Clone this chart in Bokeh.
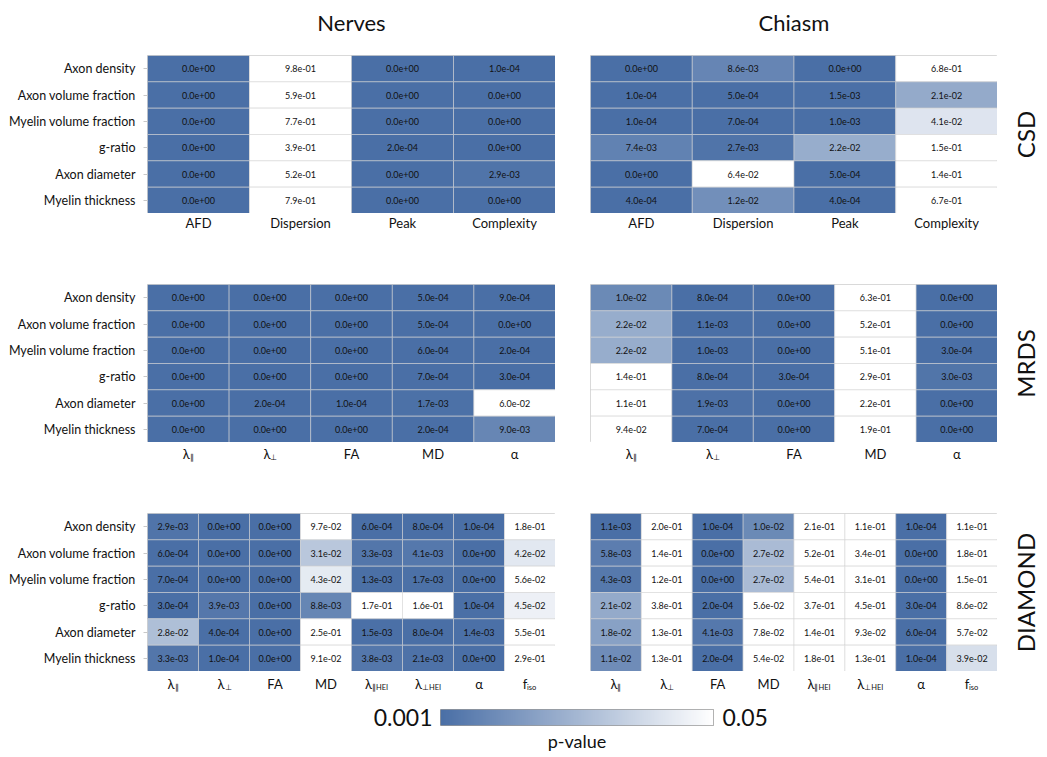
import numpy as np
from bokeh.plotting import figure
from bokeh.models import (ColumnDataSource, FactorRange, Range1d, LinearColorMapper,
                          LinearAxis, FixedTicker)
from bokeh.transform import transform
from bokeh.layouts import column, row
from bokeh.embed import file_html
from bokeh.resources import INLINE
from bokeh.core.properties import value

# ---------------- data ----------------
rows = ["Axon density", "Axon volume fraction", "Myelin volume fraction",
        "g-ratio", "Axon diameter", "Myelin thickness"]

csd_cols = ["AFD", "Dispersion", "Peak", "Complexity"]
csd_main = ["AFD", "Dispersion", "Peak", "Complexity"]
csd_sub = ["", "", "", ""]

mrds_cols = ["λ∥", "λ⊥", "FA", "MD", "α"]
mrds_main = ["λ", "λ", "FA", "MD", "α"]
mrds_sub = ["∥", "⊥", "", "", ""]

diamond_cols = ["λ∥", "λ⊥", "FA", "MD", "λ∥HEI", "λ⊥HEI", "α", "fiso"]
diamond_main = ["λ", "λ", "FA", "MD", "λ", "λ", "α", "f"]
diamond_sub = ["∥", "⊥", "", "", "∥HEI", "⊥HEI", "", "iso"]

csd_nerves = [
    [0.0, 9.8e-01, 0.0, 1.0e-04],
    [0.0, 5.9e-01, 0.0, 0.0],
    [0.0, 7.7e-01, 0.0, 0.0],
    [0.0, 3.9e-01, 2.0e-04, 0.0],
    [0.0, 5.2e-01, 0.0, 2.9e-03],
    [0.0, 7.9e-01, 0.0, 0.0],
]
csd_chiasm = [
    [0.0, 8.6e-03, 0.0, 6.8e-01],
    [1.0e-04, 5.0e-04, 1.5e-03, 2.1e-02],
    [1.0e-04, 7.0e-04, 1.0e-03, 4.1e-02],
    [7.4e-03, 2.7e-03, 2.2e-02, 1.5e-01],
    [0.0, 6.4e-02, 5.0e-04, 1.4e-01],
    [4.0e-04, 1.2e-02, 4.0e-04, 6.7e-01],
]
mrds_nerves = [
    [0.0, 0.0, 0.0, 5.0e-04, 9.0e-04],
    [0.0, 0.0, 0.0, 5.0e-04, 0.0],
    [0.0, 0.0, 0.0, 6.0e-04, 2.0e-04],
    [0.0, 0.0, 0.0, 7.0e-04, 3.0e-04],
    [0.0, 2.0e-04, 1.0e-04, 1.7e-03, 6.0e-02],
    [0.0, 0.0, 0.0, 2.0e-04, 9.0e-03],
]
mrds_chiasm = [
    [1.0e-02, 8.0e-04, 0.0, 6.3e-01, 0.0],
    [2.2e-02, 1.1e-03, 0.0, 5.2e-01, 0.0],
    [2.2e-02, 1.0e-03, 0.0, 5.1e-01, 3.0e-04],
    [1.4e-01, 8.0e-04, 3.0e-04, 2.9e-01, 3.0e-03],
    [1.1e-01, 1.9e-03, 0.0, 2.2e-01, 0.0],
    [9.4e-02, 7.0e-04, 0.0, 1.9e-01, 0.0],
]
diamond_nerves = [
    [2.9e-03, 0.0, 0.0, 9.7e-02, 6.0e-04, 8.0e-04, 1.0e-04, 1.8e-01],
    [6.0e-04, 0.0, 0.0, 3.1e-02, 3.3e-03, 4.1e-03, 0.0, 4.2e-02],
    [7.0e-04, 0.0, 0.0, 4.3e-02, 1.3e-03, 1.7e-03, 0.0, 5.6e-02],
    [3.0e-04, 3.9e-03, 0.0, 8.8e-03, 1.7e-01, 1.6e-01, 1.0e-04, 4.5e-02],
    [2.8e-02, 4.0e-04, 0.0, 2.5e-01, 1.5e-03, 8.0e-04, 1.4e-03, 5.5e-01],
    [3.3e-03, 1.0e-04, 0.0, 9.1e-02, 3.8e-03, 2.1e-03, 0.0, 2.9e-01],
]
diamond_chiasm = [
    [1.1e-03, 2.0e-01, 1.0e-04, 1.0e-02, 2.1e-01, 1.1e-01, 1.0e-04, 1.1e-01],
    [5.8e-03, 1.4e-01, 0.0, 2.7e-02, 5.2e-01, 3.4e-01, 0.0, 1.8e-01],
    [4.3e-03, 1.2e-01, 0.0, 2.7e-02, 5.4e-01, 3.1e-01, 0.0, 1.5e-01],
    [2.1e-02, 3.8e-01, 2.0e-04, 5.6e-02, 3.7e-01, 4.5e-01, 3.0e-04, 8.6e-02],
    [1.8e-02, 1.3e-01, 4.1e-03, 7.8e-02, 1.4e-01, 9.3e-02, 6.0e-04, 5.7e-02],
    [1.1e-02, 1.3e-01, 2.0e-04, 5.4e-02, 1.8e-01, 1.3e-01, 1.0e-04, 3.9e-02],
]

p_low, p_high = 0.001, 0.05

# ---------------- style ----------------
FONT = "Lato"
INK = "#111111"
DARK = (74, 111, 166)
palette = ["#%02x%02x%02x" % tuple(int(round(c + (255 - c) * t)) for c in DARK)
           for t in np.linspace(0, 1, 256)]
mapper = LinearColorMapper(palette=palette, low=p_low, high=p_high,
                           low_color=palette[0], high_color=palette[-1])

FRAME_H = 158
TITLE_H, TITLE_Y = 55, -22
L_LEFT, L_FRAME = 147, 408
R_LEFT, R_FRAME = 35, 407
SIDE_W, SIDE_X = 45, 28
SUB_W = {"∥": 4, "⊥": 6, "∥HEI": 17, "⊥HEI": 19, "iso": 10, "": 0}
MAIN_W = {"λ": 7, "f": 4}


def bare(**kw):
    p = figure(x_axis_location=None, y_axis_location=None, toolbar_location=None,
               output_backend="svg", title=None, min_border_right=0,
               min_border_bottom=0, min_border_top=0, outline_line_color=None, **kw)
    p.grid.visible = False
    return p


def blank_axis(ax):
    ax.axis_line_color = None
    ax.major_tick_line_color = None
    ax.minor_tick_line_color = None
    ax.axis_label_text_font = FONT
    ax.axis_label_text_font_style = "normal"
    ax.axis_label_text_color = INK


def heatmap(vals, cols, left):
    bl, fw = (L_LEFT, L_FRAME) if left else (R_LEFT, R_FRAME)
    p = figure(x_range=FactorRange(*cols), y_range=FactorRange(*reversed(rows)),
               width=bl + fw, height=FRAME_H,
               min_border_left=bl, min_border_right=0,
               min_border_top=0, min_border_bottom=0,
               x_axis_location=None, y_axis_location="left" if left else None,
               toolbar_location=None, output_backend="svg", title=None,
               outline_line_color="#d0d0d0")
    p.grid.visible = False
    xs, ys, ps, txt = [], [], [], []
    for i, r in enumerate(rows):
        for j, c in enumerate(cols):
            xs.append(c); ys.append(r); ps.append(vals[i][j])
            txt.append("{:.1e}".format(vals[i][j]))
    src = ColumnDataSource(dict(x=xs, y=ys, p=ps, t=txt))
    p.rect(x="x", y="y", width=1, height=1, source=src,
           fill_color=transform("p", mapper), line_color="#d4d4d4", line_alpha=0.55,
           line_width=1)
    p.text(x="x", y="y", text="t", source=src, text_align="center",
           text_baseline="middle", text_font=value(FONT), text_font_size="9px",
           text_color=INK)
    if left:
        ax = p.yaxis[0]
        ax.axis_line_color = None
        ax.major_tick_in = 0
        ax.major_tick_out = 4
        ax.major_tick_line_color = "#c8c8c8"
        ax.major_label_standoff = 8
        ax.major_label_text_font = FONT
        ax.major_label_text_font_size = "12.5px"
        ax.major_label_text_color = INK
    return p


def title_strip(text, left):
    bl, fw = (L_LEFT, L_FRAME) if left else (R_LEFT, R_FRAME)
    p = bare(x_range=Range1d(0, 1), y_range=Range1d(-TITLE_H, 0),
             width=bl + fw, height=TITLE_H, min_border_left=bl)
    p.text(x=[0.5], y=[TITLE_Y], text=[text], text_align="center",
           text_baseline="middle", text_font=value(FONT), text_font_size="22px",
           text_color=INK)
    return p


def side(text):
    p = bare(x_range=Range1d(0, SIDE_W), y_range=Range1d(0, 1), width=SIDE_W,
             height=FRAME_H, min_border_left=0)
    p.text(x=[SIDE_X], y=[0.5], text=[text], angle=np.pi / 2, text_align="center",
           text_baseline="middle", text_font=value(FONT), text_font_size="24px",
           text_color=INK)
    return p


def labels(cols, main, sub, left, h, gap):
    bl, fw = (L_LEFT, L_FRAME) if left else (R_LEFT, R_FRAME)
    p = bare(x_range=FactorRange(*cols), y_range=Range1d(-h, 0),
             width=bl + fw, height=h, min_border_left=bl)
    ws = [SUB_W[s] for s in sub]
    wm = [MAIN_W.get(m, 0) for m in main]
    src = ColumnDataSource(dict(
        x=cols, main=main, sub=sub,
        ym=[-gap] * len(cols), ys=[-gap - 3.5] * len(cols),
        dxm=[-a / 2 for a in ws], dxs=[b / 2 - a / 2 for a, b in zip(ws, wm)]))
    p.text(x="x", y="ym", text="main", source=src, x_offset="dxm",
           text_align="center", text_baseline="middle", text_font=value(FONT),
           text_font_size="13px", text_color=INK)
    p.text(x="x", y="ys", text="sub", source=src, x_offset="dxs",
           text_align="left", text_baseline="middle", text_font=value(FONT),
           text_font_size="7.5px", text_color=INK)
    return p


def band(vn, vc, cols, main, sub, lab_h, gap, name, titles=False):
    lparts = [heatmap(vn, cols, True), labels(cols, main, sub, True, lab_h, gap)]
    rparts = [row(heatmap(vc, cols, False), side(name)),
              labels(cols, main, sub, False, lab_h, gap)]
    if titles:
        lparts.insert(0, title_strip("Nerves", True))
        rparts.insert(0, title_strip("Chiasm", False))
    return row(column(*lparts), column(*rparts))


b1 = band(csd_nerves, csd_chiasm, csd_cols, csd_main, csd_sub, 71, 9, "CSD", True)
b2 = band(mrds_nerves, mrds_chiasm, mrds_cols, mrds_main, mrds_sub, 71, 11, "MRDS")
b3 = band(diamond_nerves, diamond_chiasm, diamond_cols, diamond_main, diamond_sub,
          29, 12, "DIAMOND")

# colour bar
TOTAL_W = L_LEFT + L_FRAME + R_LEFT + R_FRAME + SIDE_W
CB_L, CB_F = 440, 273
cb = figure(x_range=Range1d(p_low, p_high), y_range=Range1d(0, 1),
            width=TOTAL_W, height=9 + 18 + 27,
            min_border_left=CB_L, min_border_right=TOTAL_W - CB_L - CB_F,
            min_border_top=9, min_border_bottom=27,
            toolbar_location=None, output_backend="svg", title=None,
            outline_line_color="#999999")
cb.grid.visible = False
for ax in cb.xaxis + cb.yaxis:
    ax.ticker = FixedTicker(ticks=[])
    blank_axis(ax)
cb.xaxis[0].axis_label = "p-value"
cb.xaxis[0].axis_label_text_font_size = "18px"
cb.xaxis[0].axis_label_standoff = 4
cb.yaxis[0].axis_label = "0.001"
cb.yaxis[0].axis_label_orientation = "horizontal"
cb.yaxis[0].axis_label_text_font_size = "23px"
cb.yaxis[0].axis_label_standoff = 8
rax = LinearAxis(ticker=FixedTicker(ticks=[]))
blank_axis(rax)
rax.axis_label = "0.05"
rax.axis_label_orientation = "horizontal"
rax.axis_label_text_font_size = "23px"
rax.axis_label_standoff = 9
cb.add_layout(rax, "right")
grad = np.linspace(p_low, p_high, 400).reshape(1, -1)
cb.image(image=[grad], x=p_low, y=0, dw=p_high - p_low, dh=1, color_mapper=mapper)

layout = column(b1, b2, b3, cb)
open("out.html", "w").write(file_html(layout, INLINE))
